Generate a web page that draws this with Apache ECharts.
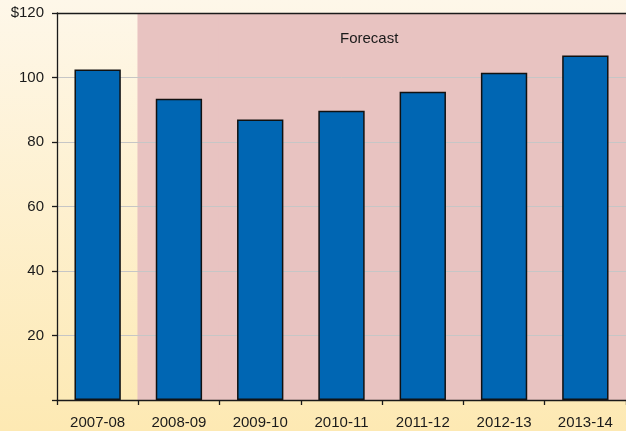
<!DOCTYPE html>
<html>
<head>
<meta charset="utf-8">
<script src="https://cdn.jsdelivr.net/npm/echarts@6/dist/echarts.min.js"></script>
<style>
  html, body { margin: 0; padding: 0; }
  #chart { width: 626px; height: 431px; }
</style>
</head>
<body>
<div id="chart"></div>
<script>
// Fiscal years and spending (in dollars)
const years = ['2007-08', '2008-09', '2009-10', '2010-11', '2011-12', '2012-13', '2013-14'];
const amounts = [102.5, 93.4, 87.0, 89.7, 95.6, 101.5, 106.8];
// Which years are projections
const isForecast = [false, true, true, true, true, true, true];
const yTickLabels = { 0: '', 20: '20', 40: '40', 60: '60', 80: '80', 100: '100', 120: '$120' };
const yMax = 120;

const font = '"Liberation Sans", Arial, sans-serif';
const chart = echarts.init(document.getElementById('chart'));

chart.setOption({
  animation: false,
  backgroundColor: new echarts.graphic.LinearGradient(0, 0, 0, 1, [
    { offset: 0, color: '#fef7e9' },
    { offset: 1, color: '#fde9b3' }
  ]),
  grid: { left: 57, top: 13, width: 573, height: 387, containLabel: false },
  xAxis: [
    {
      type: 'category',
      data: years,
      position: 'bottom',
      z: 4,
      axisLine: { lineStyle: { color: '#1a1a1a', width: 1.3 } },
      axisTick: { show: true, length: 5, lineStyle: { color: '#1a1a1a', width: 1.3 } },
      axisLabel: { color: '#1a1a1a', fontFamily: font, fontSize: 15, margin: 15 },
      splitLine: { show: false }
    },
    {
      // overlay axis for the forecast shading; its line forms the top border
      type: 'category',
      data: years,
      position: 'top',
      z: 4,
      axisLine: { show: true, onZero: false, lineStyle: { color: '#1a1a1a', width: 1.3 } },
      axisTick: { show: false },
      axisLabel: { show: false },
      splitLine: { show: false }
    }
  ],
  yAxis: {
    type: 'value',
    min: 0,
    max: yMax,
    interval: 20,
    z: 2,
    axisLine: { show: true, lineStyle: { color: '#1a1a1a', width: 1.3 } },
    axisTick: { show: true, length: 5, lineStyle: { color: '#1a1a1a', width: 1.3 } },
    axisLabel: {
      color: '#1a1a1a', fontFamily: font, fontSize: 15, margin: 13,
      formatter: v => yTickLabels[v] !== undefined ? yTickLabels[v] : String(v)
    },
    splitLine: {
      show: true,
      lineStyle: { color: '#c6c6c6', width: 1 }
    }
  },
  graphic: [{
    type: 'text',
    left: 340,
    top: 31,
    z: 5,
    style: { text: 'Forecast', font: '15px ' + font, fill: '#1a1a1a' }
  }],
  series: [
    {
      // shaded forecast period; slightly overlapping columns avoid seams
      type: 'bar',
      xAxisIndex: 1,
      z: 1,
      barWidth: '102%',
      silent: true,
      itemStyle: { color: '#e8c3c1' },
      data: isForecast.map(f => f ? yMax : '-')
    },
    {
      type: 'bar',
      xAxisIndex: 0,
      z: 3,
      barWidth: '57%',
      itemStyle: { color: '#0066b3', borderColor: '#111', borderWidth: 1.5 },
      data: amounts
    }
  ]
});
</script>
</body>
</html>
